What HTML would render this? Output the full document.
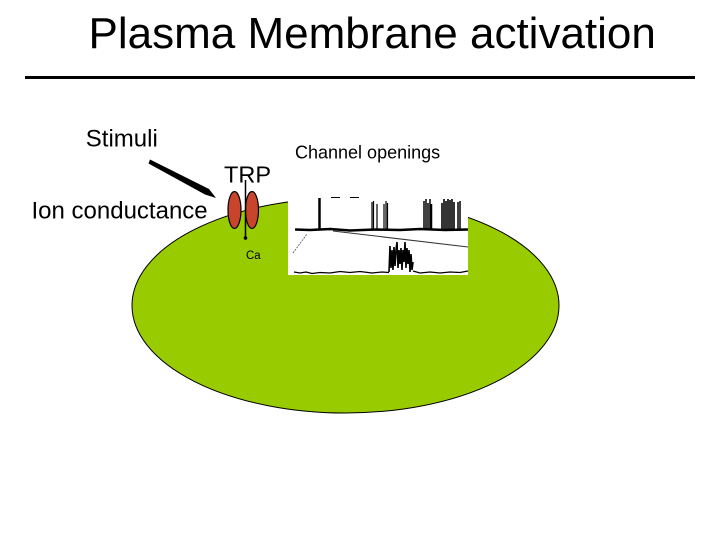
<!DOCTYPE html>
<html>
<head>
<meta charset="utf-8">
<style>
html,body{margin:0;padding:0;background:#fff;}
svg{display:block;}
text{font-family:"Liberation Sans",sans-serif;fill:#000;}
</style>
</head>
<body>
<svg width="720" height="540" viewBox="0 0 720 540" xmlns="http://www.w3.org/2000/svg">
<rect width="720" height="540" fill="#fff"/>
<text x="88.5" y="48" font-size="44">Plasma Membrane activation</text>
<line x1="25" y1="77.5" x2="695" y2="77.5" stroke="#000" stroke-width="3"/>
<ellipse cx="345.5" cy="305.5" rx="213.5" ry="107.5" fill="#99cc00" stroke="#000" stroke-width="1"/>
<text x="85.8" y="146.5" font-size="24">Stimuli</text>
<text x="31.5" y="218.3" font-size="24">Ion conductance</text>
<text x="224" y="182.5" font-size="23.5">TRP</text>
<text x="295" y="158.5" font-size="18">Channel openings</text>
<text x="246" y="259" font-size="11.5" fill="#222">Ca</text>
<polygon points="150,159.5 148.5,163.5 205,194.5 216,198 209,189" fill="#000"/>
<ellipse cx="234.5" cy="210" rx="6.5" ry="18.5" fill="#c8452c" stroke="#000" stroke-width="1.2"/>
<ellipse cx="252" cy="210" rx="6.5" ry="18.5" fill="#c8452c" stroke="#000" stroke-width="1.2"/>
<line x1="245.5" y1="180" x2="245.5" y2="238" stroke="#000" stroke-width="1.5"/>
<circle cx="245.5" cy="238" r="1.8" fill="#000"/>
<rect x="288" y="195" width="180" height="80" fill="#fff"/>
<g stroke="#000" fill="none">
<path d="M295 229.5L310 230L330 229L350 230.5L375 229.5L400 230L420 229L445 230L468 229.5" stroke-width="2.6"/>
<path d="M331 197.5H340M350 197.5H359" stroke-width="1"/>
<path d="M333 231L468 247" stroke-width="1" stroke="#333"/>
<path d="M293 253L307 234" stroke-width="0.8" stroke="#555" stroke-dasharray="2 1"/>
<path d="M319.5 229V198" stroke-width="2.5"/>
<path d="M372 229V202M373.5 229V201M377 229V204M384 229V204M386 229V201M387.5 229V203" stroke-width="1.2"/>
<path d="M424 229V201M426 229V199M428 229V203M430 229V199M431.5 229V204" stroke-width="1.5"/>
<path d="M442 229V203M444 229V199M446 229V201M448 229V199M450 229V200M452 229V199M454 229V202" stroke-width="1.6"/>
<path d="M458 229V202M460 229V201" stroke-width="1.5"/>
<path d="M294 272L300 273L306 272L312 273.5L320 272.5L330 273L340 271.5L350 272.5L360 271.5L372 273L382 272L389 272.5M413 271L420 273L430 272L440 273L450 272L460 272.5L468 271" stroke-width="1.3"/>
<path d="M389 272L390 246L391 268L392 250L393 270L394 247L395 266L396 250L397 242L398 268L399 250L400 264L401 248L402 270L403 250L404 262L405 242L406 268L407 248L408 264L409 250L410 272L411 254L412 270L413 262" stroke-width="1.6"/>
</g>
</svg>
</body>
</html>
